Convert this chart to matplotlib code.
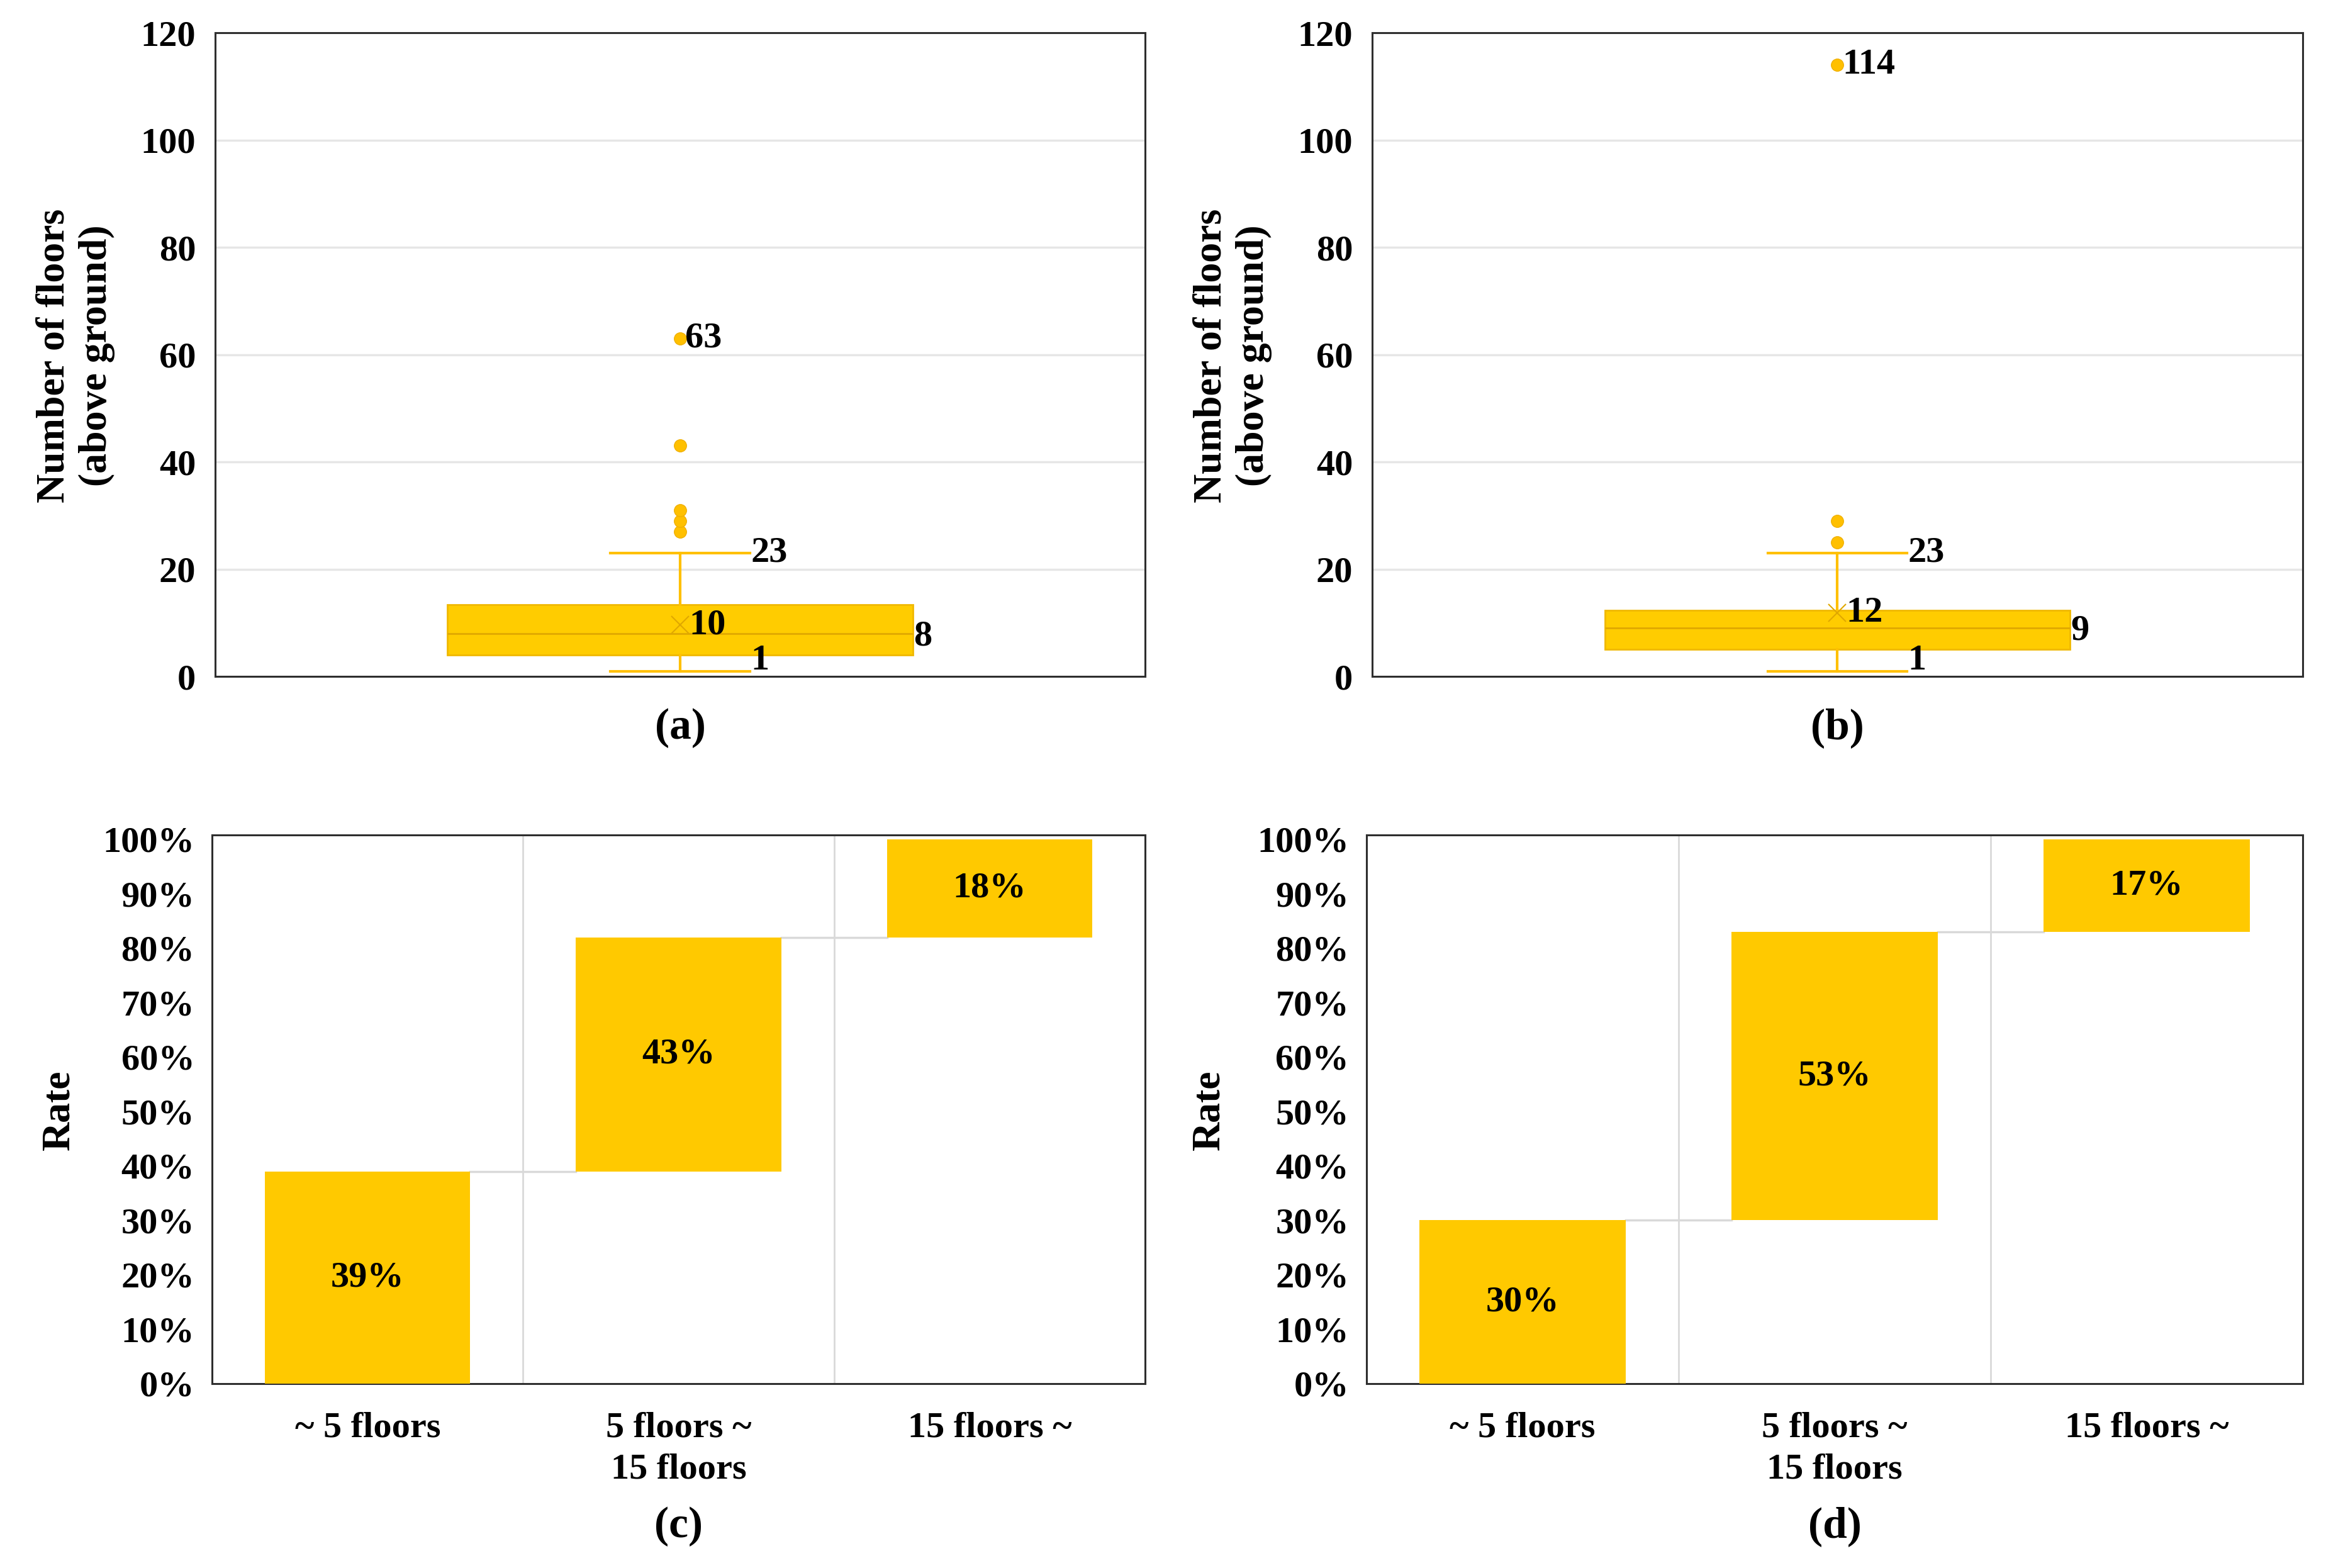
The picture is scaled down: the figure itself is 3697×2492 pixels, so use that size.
import numpy as np
import matplotlib
matplotlib.use('Agg')
import matplotlib.pyplot as plt

# dati
# (a) e (b): box plot del numero di piani fuori terra
piani_a_q1 = 4
piani_a_q3 = 13.4
piani_a_med = 8
piani_a_mean = 9.6
piani_a_whis = [1, 23]
piani_a_out = [27, 29, 31, 43, 63]

piani_b_q1 = 5
piani_b_q3 = 12.3
piani_b_med = 9
piani_b_mean = 11.9
piani_b_whis = [1, 23]
piani_b_out = [25, 29, 114]

# (c) e (d): quota per classe di altezza
classi = ['~ 5 floors', '5 floors ~\n15 floors', '15 floors ~']
quote_c = [0.39, 0.43, 0.18]
quote_d = [0.30, 0.53, 0.17]

box_ticks = [0, 20, 40, 60, 80, 100, 120]
rate_ticks = np.arange(0, 1.01, 0.1)

oro = '#FFC000'
oro_box = '#FFCC00'
oro_scuro = '#E0A800'
griglia = '#D9D9D9'
bordo = '#2e2e2e'
fs = 42
fs_titoli = 46

plt.rcParams['font.family'] = ['Liberation Serif', 'DejaVu Serif']
plt.rcParams['font.weight'] = 'bold'

fig = plt.figure(figsize=(36.97, 24.92), dpi=100)


def cornice(ax):
    for s in ax.spines.values():
        s.set_color(bordo)
        s.set_linewidth(2.2)
    ax.tick_params(length=0, labelsize=fs)


def box_plot(ax, q1, q3, med, mean, whis, out):
    stats = [{'q1': q1, 'q3': q3, 'med': med, 'mean': mean,
              'whislo': whis[0], 'whishi': whis[1], 'fliers': out, 'label': ''}]
    ax.bxp(stats, positions=[1], widths=0.5, showmeans=True, patch_artist=True,
           capwidths=0.15,
           boxprops=dict(facecolor=oro_box, edgecolor='#F0B800', linewidth=2),
           medianprops=dict(color=oro_scuro, linewidth=2),
           whiskerprops=dict(color=oro, linewidth=3),
           capprops=dict(color=oro, linewidth=3),
           meanprops=dict(marker='x', markeredgecolor=oro_scuro, markersize=20, markeredgewidth=1.5),
           flierprops=dict(marker='o', markerfacecolor=oro, markeredgecolor='#F0B000', markersize=14))
    ax.set_xlim(0.5, 1.5)
    ax.set_ylim(0, 120)
    ax.set_yticks(box_ticks)
    ax.set_xticks([])
    ax.yaxis.grid(True, color='#E6E6E6', linewidth=2.5)
    ax.set_axisbelow(True)
    cornice(ax)
    ax.tick_params(axis='y', pad=22)
    # etichette dei valori
    kw = dict(textcoords='offset points', fontsize=fs, ha='left', va='center')
    ax.annotate(str(max(out)), (1, max(out)), xytext=(6, 0), **kw)
    ax.annotate(str(whis[1]), (1.075, whis[1]), xytext=(1, 0), **kw)
    ax.annotate(str(whis[0]), (1.075, whis[0]), xytext=(1, 12), **kw)
    ax.annotate(str(round(mean)), (1, mean), xytext=(10, 0), **kw)
    ax.annotate(str(med), (1.25, med), xytext=(1, -3), **kw)


def cascata(ax, quote):
    cum = np.cumsum(quote)
    base = cum - np.array(quote)
    x = np.arange(len(quote))
    ax.bar(x, quote, bottom=base, width=0.66, color='#FFC900', zorder=3)
    for i in range(len(quote)):
        ax.text(x[i], base[i] + quote[i] / 2, f'{quote[i]*100:.0f}%',
                ha='center', va='center', fontsize=fs, zorder=4)
    # linee di collegamento
    for i in range(len(quote) - 1):
        ax.plot([x[i] + 0.33, x[i + 1] - 0.33], [cum[i], cum[i]], color=griglia, linewidth=2.5, zorder=2)
    for g in [0.5, 1.5]:
        ax.axvline(g, color=griglia, linewidth=2, zorder=1)
    ax.set_xlim(-0.5, 2.5)
    ax.set_ylim(0, 1.008)
    ax.set_yticks(rate_ticks)
    ax.set_yticklabels([f'{v*100:.0f}%' for v in rate_ticks])
    ax.set_xticks(x)
    ax.set_xticklabels(classi, linespacing=1.35)
    cornice(ax)
    ax.tick_params(axis='y', pad=20)
    ax.tick_params(axis='x', pad=32)


ax_a = fig.add_axes([0.0925, 0.5686, 0.3998, 0.4105])
ax_b = fig.add_axes([0.5899, 0.5686, 0.4001, 0.4105])
ax_c = fig.add_axes([0.0912, 0.1176, 0.4011, 0.3499])
ax_d = fig.add_axes([0.5875, 0.1176, 0.4025, 0.3499])

box_plot(ax_a, piani_a_q1, piani_a_q3, piani_a_med, piani_a_mean, piani_a_whis, piani_a_out)
box_plot(ax_b, piani_b_q1, piani_b_q3, piani_b_med, piani_b_mean, piani_b_whis, piani_b_out)
cascata(ax_c, quote_c)
cascata(ax_d, quote_d)

# titoli degli assi y
fig.text(0.0325, 0.773, 'Number of floors\n(above ground)', rotation=90, ha='center', va='center',
         fontsize=fs_titoli, multialignment='center', linespacing=1.2)
fig.text(0.5299, 0.773, 'Number of floors\n(above ground)', rotation=90, ha='center', va='center',
         fontsize=fs_titoli, multialignment='center', linespacing=1.2)
fig.text(0.0255, 0.292, 'Rate', rotation=90, ha='center', va='center', fontsize=fs_titoli)
fig.text(0.5200, 0.292, 'Rate', rotation=90, ha='center', va='center', fontsize=fs_titoli)

# lettere dei pannelli
fig.text(0.2924, 0.5355, '(a)', ha='center', va='center', fontsize=50)
fig.text(0.7900, 0.5355, '(b)', ha='center', va='center', fontsize=50)
fig.text(0.2918, 0.0265, '(c)', ha='center', va='center', fontsize=50)
fig.text(0.7888, 0.0265, '(d)', ha='center', va='center', fontsize=50)

fig.savefig('out.png', dpi=100, facecolor='white')
